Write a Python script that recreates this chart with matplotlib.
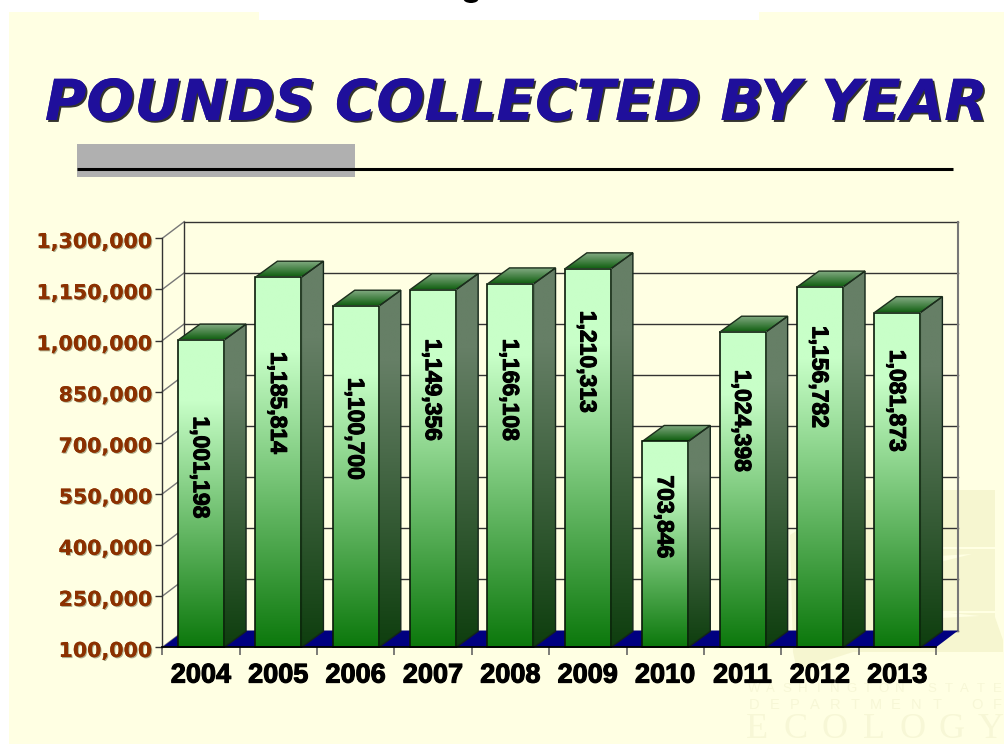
import numpy as np
import matplotlib
matplotlib.use("Agg")
import matplotlib.pyplot as plt
import matplotlib.patheffects as pe
from matplotlib.patches import Polygon, Rectangle, Ellipse
from matplotlib.transforms import ScaledTranslation

years = [2004, 2005, 2006, 2007, 2008, 2009, 2010, 2011, 2012, 2013]
pounds = [1001198, 1185814, 1100700, 1149356, 1166108, 1210313, 703846, 1024398, 1156782, 1081873]
label_heights = [627500, 816800, 740500, 854900, 854900, 937000, 482300, 764000, 893000, 822600]
y_ticks = [100000, 250000, 400000, 550000, 700000, 850000, 1000000, 1150000, 1300000]

W, H = 1005, 744
BG = "#ffffe3"
PALE = "#f6f6d0"
PALE_TEXT = "#f7f7d6"

# depth of the fake 3d box, in axis units
wall_dx, wall_dy = 0.285, 49000
bar_dx, bar_dy = 0.285, 47000
bar_w = 0.595


def ramp(top, bottom, hold=0.2, n=256):
    # vertical colour ramp, flat for the first bit then linear
    t = np.clip((np.linspace(0, 1, n) - hold) / (1 - hold), 0, 1)[:, None, None]
    a = np.array(matplotlib.colors.to_rgb(top))[None, None, :]
    b = np.array(matplotlib.colors.to_rgb(bottom))[None, None, :]
    return a + (b - a) * t


fig = plt.figure(figsize=(W / 100, H / 100), dpi=100, facecolor="white")

# slide background, title and rule
bg = fig.add_axes([0, 0, 1, 1], zorder=0)
bg.set_xlim(0, W)
bg.set_ylim(H, 0)
bg.axis("off")
bg.add_patch(Rectangle((9, 12), W - 10, H, fc=BG, ec="none"))
bg.add_patch(Rectangle((259, 0), 500, 20, fc="white", ec="none"))
bg.add_patch(Ellipse((471, -1), 15, 8, fc="black", ec="none", clip_on=True))

# agency logo behind the chart
bg.add_patch(Polygon([(790, 535), (860, 490), (995, 490), (995, 617), (1003, 640), (1003, 652),
                      (853, 652), (797, 670), (793, 652)], fc=PALE, ec="none"))
for yy in (548, 612):
    bg.plot([880, 995], [yy, yy], color=BG, lw=1.5)
bg.add_patch(Polygon([(940, 562), (972, 554), (938, 556)], fc=BG, ec="none"))
bg.add_patch(Polygon([(940, 618), (980, 616), (940, 612)], fc=BG, ec="none"))
for word, x0, step, yy, size, fam in [("WASHINGTON STATE", 754, 16.2, 689, 9.5, "Liberation Sans"),
                                      ("DEPARTMENT OF", 754, 20.3, 705, 10.5, "Liberation Sans"),
                                      ("ECOLOGY", 757, 39, 729, 26, "Liberation Serif")]:
    for i, ch in enumerate(word):
        bg.text(x0 + i * step, yy, ch, color=PALE_TEXT, fontsize=size, family=fam, ha="center", va="center")

bg.add_patch(Rectangle((77, 144), 278, 33, fc="#b0b0b0", ec="none"))
bg.plot([77, 952.5], [168.5, 168.5], color="black", lw=2.2, solid_capstyle="butt")
bg.text(516, 120, "POUNDS COLLECTED BY YEAR", color="#1f0f9b", fontsize=40.7, family="DejaVu Sans",
        weight="bold", style="oblique", ha="center", va="baseline",
        path_effects=[pe.withSimplePatchShadow(offset=(1.4, -1.4), shadow_rgbFace="black", alpha=0.8),
                      pe.Normal()])

# chart axes, front plane of the box
ax = fig.add_axes([162.3 / W, 1 - 647.3 / H, (936 - 162.3) / W, 409 / H], zorder=1)
ax.patch.set_visible(False)
ax.set_xlim(0, 10)
ax.set_ylim(100000, 1300000)
for s in ("top", "right"):
    ax.spines[s].set_visible(False)
ax.spines["left"].set_color("#333333")
ax.spines["left"].set_linewidth(1)
ax.spines["bottom"].set_color("black")
ax.spines["bottom"].set_linewidth(1.3)
ax.spines["bottom"].set_zorder(20)

# walls and floor
for v in y_ticks:
    ax.plot([wall_dx, 10 + wall_dx], [v + wall_dy] * 2, color="#333333", lw=1, zorder=1, clip_on=False)
    ax.plot([0, wall_dx], [v, v + wall_dy], color="#777777", lw=1, zorder=1, clip_on=False)
ax.plot([wall_dx, wall_dx], [100000 + wall_dy, 1300000 + wall_dy], color="#333333", lw=1, zorder=1, clip_on=False)
ax.plot([10 + wall_dx] * 2, [100000 + wall_dy, 1300000 + wall_dy], color="#777777", lw=1.5, zorder=1, clip_on=False)
ax.add_patch(Polygon([(0, 100000), (10, 100000), (10 + wall_dx, 100000 + wall_dy), (wall_dx, 100000 + wall_dy)],
                     fc="#000080", ec="none", zorder=2, clip_on=False))

# bars: front, side and top faces
front_ramp = ramp("#c8ffc8", "#0c780c")
side_ramp = ramp("#667f66", "#0e3e0e")
top_ramp = ramp("#8ab08a", "#0d5c0d", hold=0)

for i, val in enumerate(pounds):
    x0 = i + 0.5 - bar_w / 2
    x1 = x0 + bar_w

    side = Polygon([(x1, 100000), (x1 + bar_dx, 100000 + bar_dy), (x1 + bar_dx, val + bar_dy), (x1, val)],
                   fc="none", ec="#14261a", lw=1, zorder=4, clip_on=False)
    ax.add_patch(side)
    im = ax.imshow(side_ramp, extent=[x1, x1 + bar_dx, 100000, val + bar_dy], aspect="auto", zorder=3,
                   origin="upper", interpolation="bilinear")
    im.set_clip_path(side)
    im.set_clip_box(fig.bbox)

    top = Polygon([(x0, val), (x1, val), (x1 + bar_dx, val + bar_dy), (x0 + bar_dx, val + bar_dy)],
                  fc="none", ec="#1c2e1c", lw=1, zorder=4, clip_on=False)
    ax.add_patch(top)
    im = ax.imshow(top_ramp, extent=[x0, x1 + bar_dx, val, val + bar_dy], aspect="auto", zorder=3,
                   origin="upper", interpolation="bilinear")
    im.set_clip_path(top)
    im.set_clip_box(fig.bbox)

    ax.imshow(front_ramp, extent=[x0, x1, 100000, val], aspect="auto", zorder=5,
              origin="upper", interpolation="bilinear", clip_on=False)
    ax.add_patch(Rectangle((x0, 100000), bar_w, val - 100000, fc="none", ec="#0a1a0a", lw=1.2, zorder=6, clip_on=False))

    ax.text(i + 0.49, label_heights[i], f"{val:,}", rotation=-90, ha="center", va="center", color="black",
            fontsize=16.5, family="Liberation Sans", weight="bold", zorder=7,
            path_effects=[pe.withStroke(linewidth=0.8, foreground="black")])

# axis ticks and labels
ax.set_yticks(y_ticks)
ax.set_yticklabels([f"{v:,}" for v in y_ticks])
ax.tick_params(axis="y", length=5, width=1, color="#333333", pad=2.5)
shift = ScaledTranslation(0, -1.2 / 72, fig.dpi_scale_trans)
for lab in ax.get_yticklabels():
    lab.set_family("DejaVu Sans")
    lab.set_weight("bold")
    lab.set_fontsize(14.8)
    lab.set_color("#8b3000")
    lab.set_path_effects([pe.withSimplePatchShadow(offset=(0.8, -0.8), shadow_rgbFace="#999977", alpha=0.8),
                          pe.Normal()])
    lab.set_transform(lab.get_transform() + shift)

ax.set_xticks(np.arange(10) + 0.5)
ax.set_xticklabels(years)
ax.set_xticks(np.arange(11), minor=True)
ax.tick_params(axis="x", which="major", length=0, pad=11)
ax.tick_params(axis="x", which="minor", length=6, width=1.2, color="#666666")
for lab in ax.get_xticklabels():
    lab.set_family("Liberation Sans")
    lab.set_weight("bold")
    lab.set_fontsize(19.5)
    lab.set_color("black")
    lab.set_path_effects([pe.withStroke(linewidth=0.8, foreground="black")])

fig.savefig("out.png", dpi=100)
